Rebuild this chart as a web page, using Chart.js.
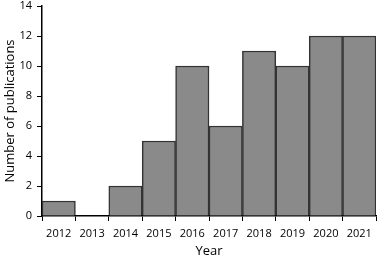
<!DOCTYPE html>
<html><head><meta charset="utf-8">
<script src="https://cdn.jsdelivr.net/npm/chart.js@4"></script>
<style>html,body{margin:0;padding:0;background:#fff}#w{width:378px;height:259px}</style>
</head><body><div id="w"><canvas id="c"></canvas></div>
<script>
const years = ['2012','2013','2014','2015','2016','2017','2018','2019','2020','2021'];
const publications = [1, 0, 2, 5, 10, 6, 11, 10, 12, 12];
const yTicks = [0, 2, 4, 6, 8, 10, 12, 14];

const font = {family: "'Open Sans', 'Noto Sans', sans-serif", size: 11};
new Chart(document.getElementById('c'), {
  type: 'bar',
  data: {labels: years, datasets: [{data: publications, backgroundColor: '#8a8a8a', borderColor: '#333333', borderWidth: 1.5, barPercentage: 1, categoryPercentage: 1}]},
  options: {
    responsive: true, maintainAspectRatio: false, animation: false,
    layout: {padding: {top: 0, right: 2, left: 2, bottom: 0}},
    plugins: {legend: {display: false}, tooltip: {enabled: false}},
    scales: {
      x: {
        grid: {display: true, drawOnChartArea: false, drawTicks: true, tickLength: 5, color: '#000', offset: true},
        border: {color: '#000', width: 1.5},
        ticks: {color: '#000', font: font, padding: 6, maxRotation: 0},
        title: {display: true, text: 'Year', color: '#000', font: {family: font.family, size: 13}, padding: {top: 1, bottom: 0}},
        afterFit: s => { s.height = 43; }
      },
      y: {
        min: 0, max: 14,
        afterBuildTicks: s => { s.ticks = yTicks.map(v => ({value: v})); },
        grid: {display: true, drawOnChartArea: false, drawTicks: true, tickLength: 5, color: '#000'},
        border: {color: '#000', width: 1.5},
        ticks: {color: '#000', font: font, padding: 5},
        title: {display: true, text: 'Number of publications', color: '#000', font: {family: font.family, size: 13}, padding: {top: 0, bottom: 1}},
        afterFit: s => { s.width = 40; s.paddingTop = 6; }
      }
    }
  }
});
</script></body></html>
